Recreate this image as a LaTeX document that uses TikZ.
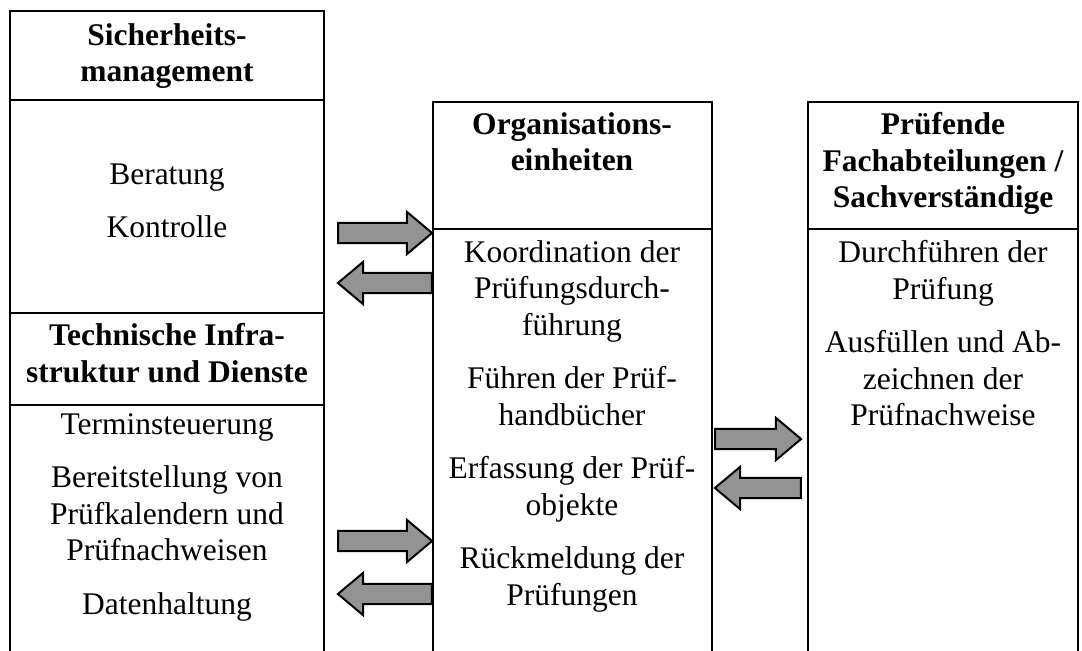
\documentclass[tikz,border=0pt]{standalone}
\usepackage{fontspec}
\setmainfont{Liberation Serif}
\usetikzlibrary{shapes.arrows}
\begin{document}
\begin{tikzpicture}[x=0.5pt, y=-0.5pt, line width=1.4pt,
  txt/.style={anchor=north, inner sep=0pt, align=center, font=\fontsize{15.75pt}{18.25pt}\selectfont},
  hdr/.style={txt, font=\fontsize{15.75pt}{18.25pt}\selectfont\bfseries},
  pfeil/.style={single arrow, draw, line width=1pt, fill=gray!85, minimum height=47pt,
    single arrow head extend=5.5pt, single arrow tip angle=80, inner sep=4.6pt},
  zurueck/.style={pfeil, shape border rotate=180}]
\useasboundingbox (0,0) rectangle (1082,651);
% Spalten
\draw (10,651) -- (10,11) -- (324,11) -- (324,651);
\draw (10,100) -- (324,100);
\draw (10,313) -- (324,313);
\draw (10,405) -- (324,405);
\draw (433,651) -- (433,102) -- (712,102) -- (712,651);
\draw (433,229) -- (712,229);
\draw (808,651) -- (808,102) -- (1078,102) -- (1078,651);
\draw (808,229) -- (1078,229);
% Texte
\node[hdr] (sm) at (167,22) {Sicherheits-\\management};
\node[txt] (smtxt) at (167,162) {Beratung\\[8.5pt]Kontrolle};
\node[hdr] (ti) at (167,322) {Technische Infra-\\struktur und Dienste};
\node[txt] (titxt) at (167,412) {Terminsteuerung\\[8.5pt]Bereitstellung von\\Prüfkalendern und\\Prüfnachweisen\\[8.5pt]Datenhaltung};
\node[hdr] (oe) at (572,111) {Organisations-\\einheiten};
\node[txt] (oetxt) at (572,239) {Koordination der\\Prüfungsdurch-\\führung\\[8.5pt]Führen der Prüf-\\handbücher\\[8.5pt]Erfassung der Prüf-\\objekte\\[8.5pt]Rückmeldung der\\Prüfungen};
\node[hdr] (pf) at (943,111) {Prüfende\\Fachabteilungen /\\Sachverständige};
\node[txt] (pftxt) at (943,239) {Durchführen der\\Prüfung\\[8.5pt]Ausfüllen und Ab-\\zeichnen der\\Prüfnachweise};
% Pfeile
\node[pfeil] (sm-oe) at (379,233) {};
\node[zurueck] (oe-sm) at (391,283) {};
\node[pfeil] (ti-oe) at (379,541) {};
\node[zurueck] (oe-ti) at (391,594) {};
\node[pfeil, minimum height=43pt] (oe-pf) at (752,439) {};
\node[zurueck, minimum height=43pt] (pf-oe) at (764,488) {};
\end{tikzpicture}
\end{document}
